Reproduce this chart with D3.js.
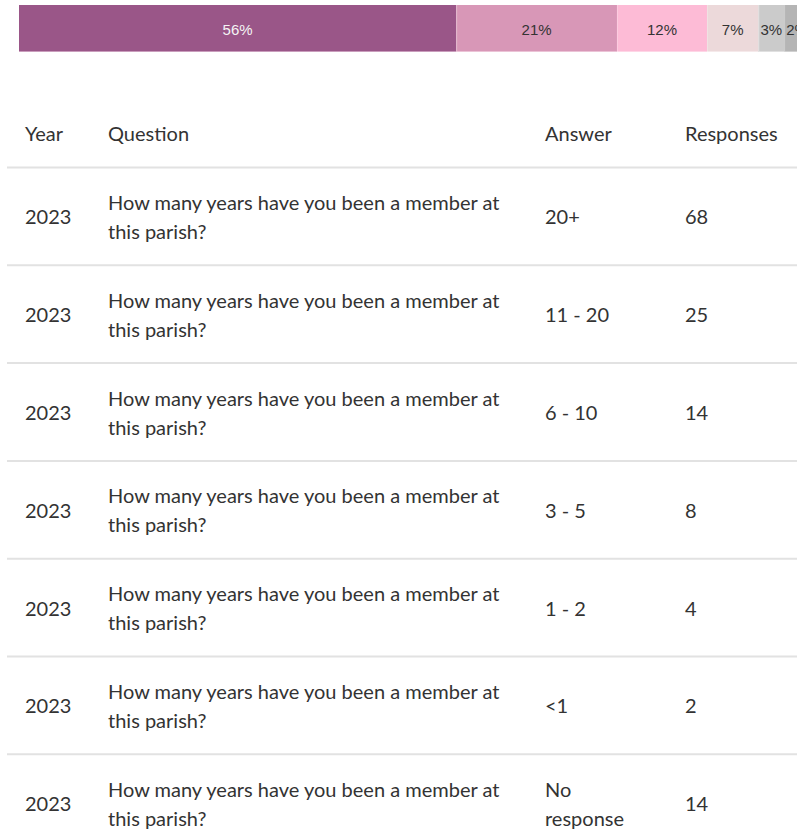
<!DOCTYPE html>
<html>
<head>
<meta charset="utf-8">
<script src="https://cdn.jsdelivr.net/npm/d3@7"></script>
<style>
  html, body { margin: 0; padding: 0; background: #fff; }
  svg { display: block; }
</style>
</head>
<body>
<div id="svgContainer"></div>
<script>
// data
var years = [2023, 2023, 2023, 2023, 2023, 2023, 2023];
var questions = [
    "How many years have you been a member at this parish?",
    "How many years have you been a member at this parish?",
    "How many years have you been a member at this parish?",
    "How many years have you been a member at this parish?",
    "How many years have you been a member at this parish?",
    "How many years have you been a member at this parish?",
    "How many years have you been a member at this parish?"
];
var answers = ["20+", "11 - 20", "6 - 10", "3 - 5", "1 - 2", "<1", "No response"];
var responses = [68, 25, 14, 8, 4, 2, 14];
var headers = ["Year", "Question", "Answer", "Responses"];

var width = 801,
    height = 830;

var svg = d3.select("#svgContainer").append("svg")
    .attr("width", width)
    .attr("height", height)
    .attr("viewBox", "0 0 " + width + " " + height);

// ---- stacked percent bar (the "No response" row is left out of it) ----
var barAnswers = answers.filter(a => a != "No response");
var barValues = responses.filter((v, i) => answers[i] != "No response");
var total = d3.sum(barValues);

var segs = [];
var acc = 0;
barValues.forEach((v, i) => {
    segs.push({ key: barAnswers[i], value: v, x0: acc, x1: acc + v });
    acc += v;
});

var x = d3.scaleLinear().domain([0, total]).range([19, 797]);
var barY = 5, barH = 47;

var color = d3.scaleOrdinal()
    .domain(barAnswers)
    .range(["#9a5688", "#d897b7", "#fdbbd6", "#ecd9da", "#cbcbcb", "#b5b5b5"]);
var edge = d3.scaleOrdinal()
    .domain(barAnswers)
    .range(["#c99dbc", "#ebc3d6", "#fed6e6", "#f5e9ea", "#e0e0e0", "#d0d0d0"]);

var defs = svg.append("defs");
defs.selectAll("clipPath")
    .data(segs)
    .enter().append("clipPath")
    .attr("id", (d, i) => "seg" + i)
    .append("rect")
    .attr("x", d => x(d.x0))
    .attr("y", barY)
    .attr("width", d => x(d.x1) - x(d.x0))
    .attr("height", barH);

var seg = svg.append("g").selectAll("g")
    .data(segs)
    .enter().append("g");

seg.append("rect")
    .attr("x", d => x(d.x0))
    .attr("y", barY)
    .attr("width", d => x(d.x1) - x(d.x0))
    .attr("height", barH)
    .attr("fill", d => color(d.key));

seg.append("rect")
    .attr("x", d => x(d.x0))
    .attr("y", barY + barH - 1)
    .attr("width", d => x(d.x1) - x(d.x0))
    .attr("height", 1)
    .attr("fill", d => edge(d.key));

seg.filter((d, i) => i > 0).append("rect")
    .attr("x", d => x(d.x0))
    .attr("y", barY)
    .attr("width", 1)
    .attr("height", barH)
    .attr("fill", "#ffffff")
    .attr("opacity", 0.25);

// labels are clipped to their segment, like the reference's overflowing "2%"
seg.append("text")
    .attr("clip-path", (d, i) => "url(#seg" + i + ")")
    .attr("font-family", "Arial, 'Liberation Sans', sans-serif")
    .attr("font-size", 15)
    .attr("dominant-baseline", "central")
    .attr("y", barY + barH / 2 + 0.5)
    .attr("fill", (d, i) => i == 0 ? "#f4f4f4" : "#333333")
    .text(d => Math.round(d.value / total * 100) + "%")
    .each(function(d) {
        var t = d3.select(this);
        var len = this.getComputedTextLength();
        var w = x(d.x1) - x(d.x0);
        if (len > w) {
            t.attr("x", x(d.x0) + 2).attr("text-anchor", "start");
        } else {
            t.attr("x", (x(d.x0) + x(d.x1)) / 2).attr("text-anchor", "middle");
        }
    });

// ---- table ----
var rows = years.map((y, i) => ({
    year: String(y),
    question: questions[i],
    answer: answers[i],
    responses: String(responses[i])
}));

var cols = ["year", "question", "answer", "responses"];
var colX = d3.scaleOrdinal().domain(cols).range([25, 108, 545, 685]);
var colW = d3.scaleOrdinal().domain(cols).range([60, 401, 95, 110]);

var tableLeft = 7, tableRight = 797;
var headerLine = 167.5;
var rowY = d3.scaleBand()
    .domain(d3.range(rows.length))
    .range([headerLine, headerLine + 97.8 * rows.length]);

var font = "Lato, 'Noto Sans', sans-serif";
var fontSize = 20;
var lineH = 29;
var ink = "#333333";

var head = svg.append("g")
    .attr("font-family", font)
    .attr("font-size", fontSize)
    .attr("fill", ink);

head.selectAll("text")
    .data(cols)
    .enter().append("text")
    .attr("x", d => colX(d))
    .attr("y", 133)
    .attr("dominant-baseline", "central")
    .text((d, i) => headers[i]);

// grid lines
svg.append("g").selectAll("line")
    .data([headerLine].concat(rows.map((r, i) => rowY(i) + rowY.bandwidth())))
    .enter().append("line")
    .attr("x1", tableLeft)
    .attr("x2", tableRight)
    .attr("y1", d => d)
    .attr("y2", d => d)
    .attr("stroke", "#e2e2e2")
    .attr("stroke-width", 2);

var body = svg.append("g")
    .attr("font-family", font)
    .attr("font-size", fontSize)
    .attr("fill", ink);

var row = body.selectAll("g")
    .data(rows)
    .enter().append("g");

// word wrap a cell into lines that fit its column
wrapCell = (g, text, key, cy) => {
    var t = g.append("text")
        .attr("x", colX(key))
        .attr("dominant-baseline", "central");
    var words = text.split(" ");
    var lines = [];
    var line = [];
    var probe = t.append("tspan");
    words.forEach(w => {
        line.push(w);
        probe.text(line.join(" "));
        if (probe.node().getComputedTextLength() > colW(key) && line.length > 1) {
            line.pop();
            lines.push(line.join(" "));
            line = [w];
        }
    });
    lines.push(line.join(" "));
    probe.remove();
    var top = cy - (lines.length - 1) * lineH / 2;
    t.selectAll("tspan")
        .data(lines)
        .enter().append("tspan")
        .attr("x", colX(key))
        .attr("y", (d, i) => top + i * lineH)
        .text(d => d);
};

row.each(function(d, i) {
    var g = d3.select(this);
    var cy = rowY(i) + rowY.bandwidth() / 2;
    cols.forEach(k => wrapCell(g, d[k], k, cy));
});
</script>
</body>
</html>
